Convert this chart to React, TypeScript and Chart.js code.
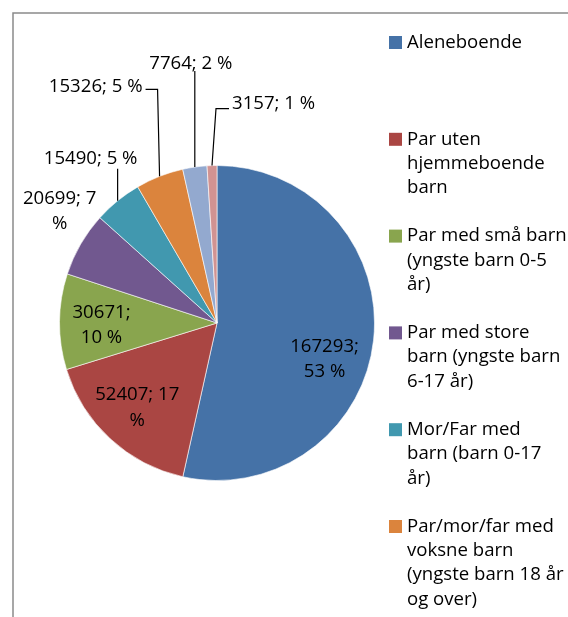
import React, { useEffect, useRef } from "react";
import { Chart, registerables } from "chart.js";

Chart.register(...registerables);

// ---- data ----
const categories = [
  "Aleneboende",
  "Par uten\nhjemmeboende\nbarn",
  "Par med små barn\n(yngste barn 0-5\når)",
  "Par med store\nbarn (yngste barn\n6-17 år)",
  "Mor/Far med\nbarn (barn 0-17\når)",
  "Par/mor/far med\nvoksne barn\n(yngste barn 18 år\nog over)",
  "Flerfamilie-\nhusholdninger med\nbarn 0-17 år",
  "Flerfamilie-\nhusholdninger uten\nbarn 0-17 år",
];
const values = [167293, 52407, 30671, 20699, 15490, 15326, 7764, 3157];
const colors = [
  "#4572A7",
  "#AA4643",
  "#89A54E",
  "#71588F",
  "#4198AF",
  "#DB843D",
  "#93A9CF",
  "#D19392",
];

// ---- label layout (offsets from the slice's outer-edge midpoint) ----
type Lay = {
  dx: number;
  dy: number;
  words: number; // words on first line
  align: CanvasTextAlign;
  leader: [number, number][] | null;
};
const labelLayout: Lay[] = [
  { dx: -49, dy: 19, words: 1, align: "center", leader: null },
  { dx: 27, dy: -31, words: 2, align: "center", leader: null },
  { dx: 42, dy: 3.5, words: 1, align: "center", leader: null },
  { dx: -21, dy: -33, words: 2, align: "center", leader: null },
  { dx: -27, dy: -42, words: 9, align: "center", leader: [[0, 0], [0, -32]] },
  { dx: -17, dy: -90, words: 9, align: "right", leader: [[0, 0], [-2, -87], [-14, -87]] },
  { dx: -4, dy: -103, words: 9, align: "center", leader: [[0, 0], [0, -96]] },
  { dx: 20, dy: -62, words: 9, align: "left", leader: [[0, 0], [4, -57], [17, -57]] },
];

const FONT = '18.6px "Open Sans", sans-serif';
const LINE_H = 25.5;

const total = values.reduce((a, b) => a + b, 0);

const overlayPlugin = {
  id: "overlay",
  beforeDraw(chart: any) {
    const ctx = chart.ctx as CanvasRenderingContext2D;
    ctx.save();
    ctx.fillStyle = "#fff";
    ctx.fillRect(0, 0, chart.width, chart.height);
    ctx.strokeStyle = "#8a8a8a";
    ctx.lineWidth = 1.5;
    ctx.beginPath();
    ctx.moveTo(13, chart.height + 5);
    ctx.lineTo(13, 13);
    ctx.lineTo(chart.width + 5, 13);
    ctx.stroke();
    ctx.restore();
  },
  afterDraw(chart: any) {
    const ctx = chart.ctx as CanvasRenderingContext2D;
    const meta = chart.getDatasetMeta(0);
    ctx.save();
    ctx.font = FONT;
    ctx.fillStyle = "#000";
    ctx.textBaseline = "middle";
    // data labels
    meta.data.forEach((arc: any, i: number) => {
      const p = arc.getProps(["x", "y", "startAngle", "endAngle", "outerRadius"], true);
      const mid = (p.startAngle + p.endAngle) / 2;
      const ex = p.x + Math.cos(mid) * p.outerRadius;
      const ey = p.y + Math.sin(mid) * p.outerRadius;
      const lay = labelLayout[i];
      const pct = Math.round((values[i] / total) * 100);
      const words = [`${values[i]};`, `${pct}`, "%"];
      const lines: string[] = [];
      lines.push(words.slice(0, lay.words).join(" "));
      const rest = words.slice(lay.words).join(" ");
      if (rest) lines.push(rest);
      if (lay.leader) {
        ctx.strokeStyle = "#000";
        ctx.lineWidth = 1.2;
        ctx.beginPath();
        lay.leader.forEach(([lx, ly], k) => {
          if (k === 0) ctx.moveTo(ex + lx, ey + ly);
          else ctx.lineTo(ex + lx, ey + ly);
        });
        ctx.stroke();
      }
      ctx.textAlign = lay.align;
      const cx = ex + lay.dx;
      const cy = ey + lay.dy;
      const y0 = cy - ((lines.length - 1) * LINE_H) / 2;
      lines.forEach((t, k) => ctx.fillText(t, cx, y0 + k * LINE_H));
    });
    // legend (entries that do not fit are left out, as in the original)
    ctx.textAlign = "left";
    const lx = 389;
    const y0 = 42.5;
    const step = 96.8;
    const lh = 24.3;
    categories.forEach((c, i) => {
      const y = y0 + i * step;
      const parts = c.split("\n");
      if (y + (parts.length - 1) * lh + 12 > chart.height) return;
      ctx.fillStyle = colors[i];
      ctx.fillRect(lx, y - 6.5, 13, 13);
      ctx.fillStyle = "#000";
      parts.forEach((t, k) => ctx.fillText(t, lx + 18, y + k * lh));
    });
    ctx.restore();
  },
};

export default function App() {
  const ref = useRef<HTMLCanvasElement | null>(null);
  useEffect(() => {
    if (!ref.current) return;
    const chart = new Chart(ref.current, {
      type: "pie",
      data: {
        labels: categories.map((c) => c.replace(/\n/g, " ")),
        datasets: [
          {
            data: values,
            backgroundColor: colors,
            borderColor: "rgba(255,255,255,0.6)",
            borderWidth: 1,
            hoverOffset: 0,
          },
        ],
      },
      options: {
        animation: false,
        responsive: true,
        maintainAspectRatio: false,
        layout: { padding: { left: 59, right: 193, top: 165, bottom: 136 } },
        plugins: {
          legend: { display: false },
          tooltip: { enabled: false },
        },
      },
      plugins: [overlayPlugin],
    });
    return () => chart.destroy();
  }, []);
  return (
    <div style={{ position: "fixed", left: 0, top: 0, width: 568, height: 617, background: "#fff" }}>
      <canvas ref={ref} />
    </div>
  );
}
